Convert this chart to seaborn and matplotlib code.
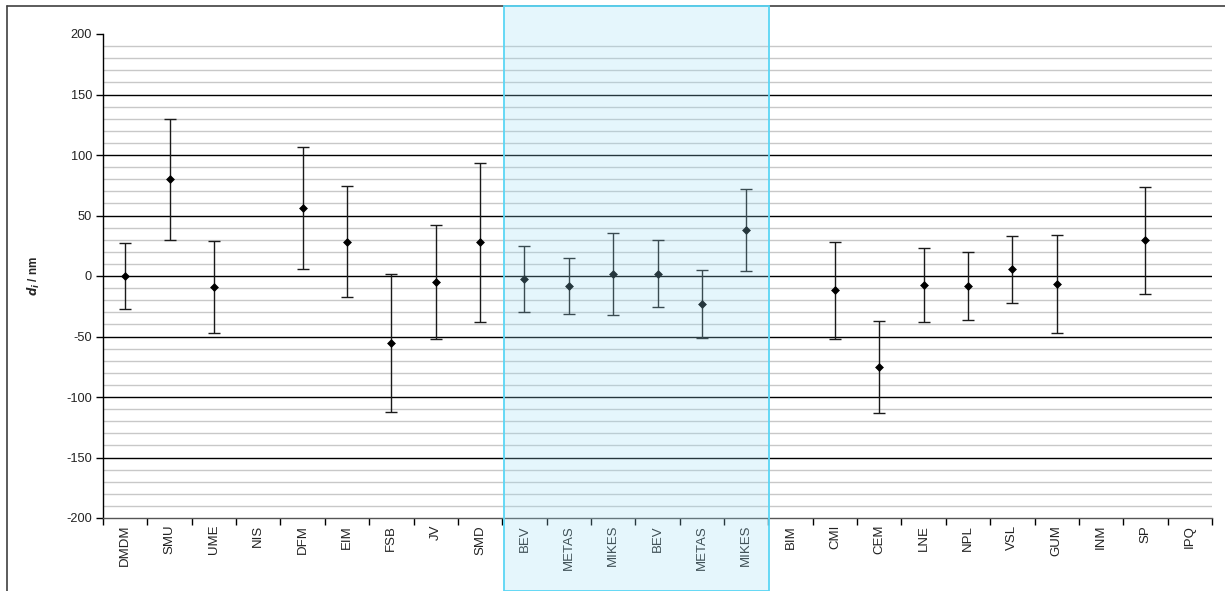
import numpy as np
import pandas as pd
import matplotlib
matplotlib.use("Agg")
import matplotlib.pyplot as plt
import seaborn as sns
from matplotlib.patches import Rectangle
from matplotlib.lines import Line2D

labs = ["DMDM", "SMU", "UME", "NIS", "DFM", "EIM", "FSB", "JV", "SMD",
        "BEV", "METAS", "MIKES", "BEV", "METAS", "MIKES",
        "BIM", "CMI", "CEM", "LNE", "NPL", "VSL", "GUM", "INM", "SP", "IPQ"]
di = [0, 80, -9, np.nan, 56, 28.5, -55, -5, 27.7,
      -2.5, -8, 1.5, 2, -23, 38,
      np.nan, -11.7, -75, -7.4, -8, 5.4, -6.7, np.nan, 29.5, np.nan]
Ui = [27, 50, 38, np.nan, 50.5, 46, 57, 47, 65.4,
      27.5, 23, 33.8, 28, 28, 34,
      np.nan, 40, 38, 30.3, 28, 27.4, 40.3, np.nan, 44, np.nan]

df = pd.DataFrame({"lab": labs, "di": di, "U": Ui})
df["pos"] = np.arange(len(df))

sns.set_theme(style="white")
plt.rcParams["font.family"] = ["Liberation Sans", "DejaVu Sans"]

W, H = 1225, 591
fig = plt.figure(figsize=(W / 100, H / 100), dpi=100)
L, R, T, B = 103, 1212, 34, 518
ax = fig.add_axes([L / W, 1 - B / H, (R - L) / W, (B - T) / H])

n = len(df)
ax.set_xlim(-0.5, n - 0.5)
ax.set_ylim(-200, 200)

# gridlines
for v in range(-190, 200, 10):
    if v % 50 == 0:
        ax.axhline(v, color="black", lw=1.0, zorder=1)
    else:
        ax.axhline(v, color="#c8c8c8", lw=1.0, zorder=1)

ok = df.dropna()
ax.errorbar(ok["pos"], ok["di"], yerr=ok["U"], fmt="none", ecolor="#1a1a1a",
            elinewidth=1.0, capsize=4.3, capthick=1.0, zorder=3)
sns.scatterplot(data=ok, x="pos", y="di", marker="D", s=16, color="black",
                edgecolor="black", linewidth=0.5, ax=ax, zorder=4, legend=False)

ax.set_xticks(np.arange(-0.5, n, 1.0))
ax.set_xticklabels([])
ax.set_xticks(np.arange(n), minor=True)
ax.set_xticklabels(labs, minor=True, rotation=90, fontsize=9.5, color="#222222")
ax.tick_params(axis="x", which="major", direction="out", length=5, width=1,
               color="black", bottom=True)
ax.tick_params(axis="x", which="minor", length=0, pad=5)
ax.set_yticks(np.arange(-200, 201, 50))
ax.set_yticklabels([str(v) for v in range(-200, 201, 50)], fontsize=9.2, color="#222222")
ax.tick_params(axis="y", direction="out", length=5, width=1, color="black", left=True, pad=3)
ax.set_xlabel("")
try:
    ax.set_ylabel(r"$\mathbfit{d_i}$ / nm", fontsize=8.5, fontweight="bold")
    fig.canvas.draw()
except Exception:
    ax.set_ylabel(r"$d_i$ / nm", fontsize=8.5, fontweight="bold")
ax.yaxis.set_label_coords(-0.055, 0.5)

for s in ["top", "right"]:
    ax.spines[s].set_visible(False)
ax.spines["left"].set_color("black")
ax.spines["bottom"].set_color("#555555")
ax.spines["left"].set_linewidth(1)
ax.spines["bottom"].set_linewidth(1)

# outer chart border (top & left)
fig.add_artist(Line2D([7 / W, 1.0], [1 - 6 / H, 1 - 6 / H], transform=fig.transFigure,
                      color="#404040", lw=1.2))
fig.add_artist(Line2D([7 / W, 7 / W], [0, 1 - 6 / H], transform=fig.transFigure,
                      color="#404040", lw=1.2))

# shaded highlight region
x0 = 504 / W
x1 = 769 / W
fig.add_artist(Rectangle((x0, 0), x1 - x0, 1 - 6 / H, transform=fig.transFigure,
                         facecolor="#9bdff7", alpha=0.25, edgecolor="none", zorder=10))
fig.add_artist(Rectangle((x0, 0), x1 - x0, 1 - 6 / H, transform=fig.transFigure,
                         facecolor="none", edgecolor="#5ad6f5", lw=1.3, zorder=11))

fig.savefig("out.png", dpi=100)
